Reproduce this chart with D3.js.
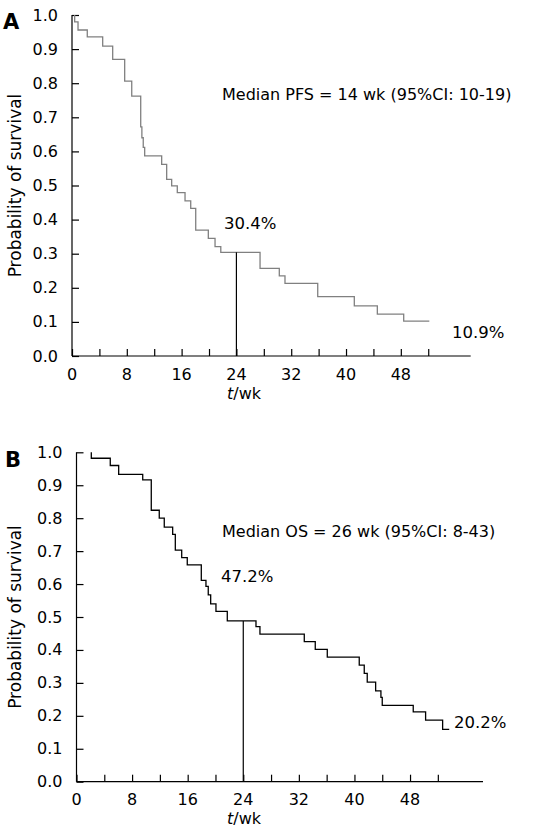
<!DOCTYPE html>
<html>
<head>
<meta charset="utf-8">
<script src="https://cdn.jsdelivr.net/npm/d3@7"></script>
<style>
  html, body { margin: 0; padding: 0; background: #fff; }
  svg { display: block; }
  text { font-family: "DejaVu Sans", Verdana, sans-serif; fill: #000; }
</style>
</head>
<body>
<svg id="chart" width="534" height="835"></svg>
<script>
// ---------- data ----------
const yTicks = [0, 0.1, 0.2, 0.3, 0.4, 0.5, 0.6, 0.7, 0.8, 0.9, 1.0];
const xMinorTicks = [0, 4, 8, 12, 16, 20, 24, 28, 32, 36, 40, 44, 48, 52];
const xTickLabels = [0, 8, 16, 24, 32, 40, 48];

// Panel A: progression-free survival (event times in weeks, survival after event)
const pfsTimes = [0.39, 0.88, 2.23, 4.48, 5.94, 7.69, 8.72, 10.03, 10.2, 10.4, 10.61, 13.09, 13.82, 14.55, 15.37, 16.5, 17.33, 18.06, 19.9, 20.88, 21.72, 27.45, 30.26, 31.09, 35.87, 41.21, 44.57, 48.42];
const pfsSurv  = [0.980, 0.956, 0.936, 0.909, 0.870, 0.806, 0.762, 0.672, 0.640, 0.612, 0.587, 0.562, 0.518, 0.499, 0.479, 0.455, 0.433, 0.369, 0.345, 0.321, 0.304, 0.257, 0.235, 0.213, 0.174, 0.147, 0.123, 0.102];
const pfsEnd = 52.16;

// Panel B: overall survival
const osTimes = [2.13, 4.86, 6.07, 9.53, 10.76, 11.91, 12.63, 13.84, 14.22, 15.14, 15.94, 17.96, 18.63, 18.96, 19.31, 20.07, 21.7, 25.83, 26.4, 32.78, 34.36, 36.09, 40.69, 41.41, 41.84, 43.05, 43.81, 44.0, 48.46, 50.24, 52.69];
const osSurv  = [0.982, 0.960, 0.933, 0.916, 0.824, 0.800, 0.773, 0.751, 0.703, 0.680, 0.658, 0.611, 0.593, 0.567, 0.540, 0.517, 0.488, 0.471, 0.448, 0.425, 0.402, 0.378, 0.354, 0.329, 0.302, 0.276, 0.256, 0.232, 0.212, 0.187, 0.159];
const osEnd = 53.64;

const panels = [
  { letter: "A", times: pfsTimes, surv: pfsSurv, end: pfsEnd, color: "#808080",
    median: 24, medianSurv: 0.304,
    title: "Median PFS = 14 wk (95%CI: 10-19)", medLabel: "30.4%", endLabel: "10.9%",
    xr: [72, 470.7], yr: [356, 15], xMax: 58.2,
    titlePos: [222, 94], medPos: [224, 223], endPos: [452, 332], letterPos: [3, 28.5] },
  { letter: "B", times: osTimes, surv: osSurv, end: osEnd, color: "#000",
    median: 24, medianSurv: 0.488,
    title: "Median OS = 26 wk (95%CI: 8-43)", medLabel: "47.2%", endLabel: "20.2%",
    xr: [76.5, 483], yr: [781.7, 452.3], xMax: 58.5,
    titlePos: [222, 531], medPos: [221, 576], endPos: [454, 722], letterPos: [5, 467] }
];

const svg = d3.select("#chart");

panels.forEach(p => {
  const x = d3.scaleLinear().domain([0, p.xMax]).range(p.xr);
  const y = d3.scaleLinear().domain([0, 1]).range(p.yr);
  const g = svg.append("g");

  // y axis
  const yAxis = d3.axisRight(y).tickValues(yTicks).tickSize(7).tickFormat("");
  const ya = g.append("g").attr("transform", `translate(${x(0)},0)`).call(yAxis);
  ya.select(".domain").attr("d", `M0,${y(0)}V${y(1)}`).attr("stroke", "#000").attr("stroke-width", 1.2);
  ya.selectAll(".tick line").attr("stroke", "#000").attr("stroke-width", 1.2);
  g.selectAll(".ylab").data(yTicks).enter().append("text")
    .attr("x", x(0) - 14).attr("y", d => y(d))
    .attr("text-anchor", "end").attr("dominant-baseline", "central")
    .attr("font-size", 16).text(d => d.toFixed(1));

  // x axis
  const xAxis = d3.axisTop(x).tickValues(xMinorTicks).tickSize(7).tickFormat("");
  const xa = g.append("g").attr("transform", `translate(0,${y(0)})`).call(xAxis);
  xa.select(".domain").attr("d", `M${x(0)},0H${x(p.xMax)}`).attr("stroke", "#000").attr("stroke-width", 1.2);
  xa.selectAll(".tick line").attr("stroke", "#000").attr("stroke-width", 1.2);
  g.selectAll(".xlab").data(xTickLabels).enter().append("text")
    .attr("x", d => x(d)).attr("y", y(0) + 23.5)
    .attr("text-anchor", "middle")
    .attr("font-size", 16).text(d => d);

  // axis titles
  const xt = g.append("text").attr("x", 244).attr("y", y(0) + 42.5)
    .attr("text-anchor", "middle").attr("font-size", 16);
  xt.append("tspan").attr("font-style", "italic").text("t");
  xt.append("tspan").text("/wk");

  const yc = (p.yr[0] + p.yr[1]) / 2;
  g.append("text").attr("transform", `translate(15,${yc}) rotate(-90)`)
    .attr("text-anchor", "middle").attr("dominant-baseline", "central")
    .attr("font-size", 17).text("Probability of survival");

  // panel letter
  g.append("text").attr("x", p.letterPos[0]).attr("y", p.letterPos[1])
    .attr("font-family", "Liberation Sans, Arial, sans-serif").attr("font-weight", "bold")
    .attr("font-size", 21).text(p.letter);

  // KM step curve
  const pts = [[p.times[0], 1.0]];
  p.times.forEach((t, i) => pts.push([t, p.surv[i]]));
  pts.push([p.end, p.surv[p.surv.length - 1]]);
  const line = d3.line().x(d => x(d[0])).y(d => y(d[1])).curve(d3.curveStepAfter);
  g.append("path").datum(pts).attr("d", line)
    .attr("fill", "none").attr("stroke", p.color).attr("stroke-width", 1.3);

  // median line
  g.append("line").attr("x1", x(p.median)).attr("x2", x(p.median))
    .attr("y1", y(p.medianSurv)).attr("y2", y(0))
    .attr("stroke", "#000").attr("stroke-width", 1.2);

  // annotations
  g.append("text").attr("x", p.titlePos[0]).attr("y", p.titlePos[1])
    .attr("dominant-baseline", "central").attr("font-size", 16).text(p.title);
  g.append("text").attr("x", p.medPos[0]).attr("y", p.medPos[1])
    .attr("dominant-baseline", "central").attr("font-size", 16.5).text(p.medLabel);
  g.append("text").attr("x", p.endPos[0]).attr("y", p.endPos[1])
    .attr("dominant-baseline", "central").attr("font-size", 16.5).text(p.endLabel);
});
</script>
</body>
</html>
